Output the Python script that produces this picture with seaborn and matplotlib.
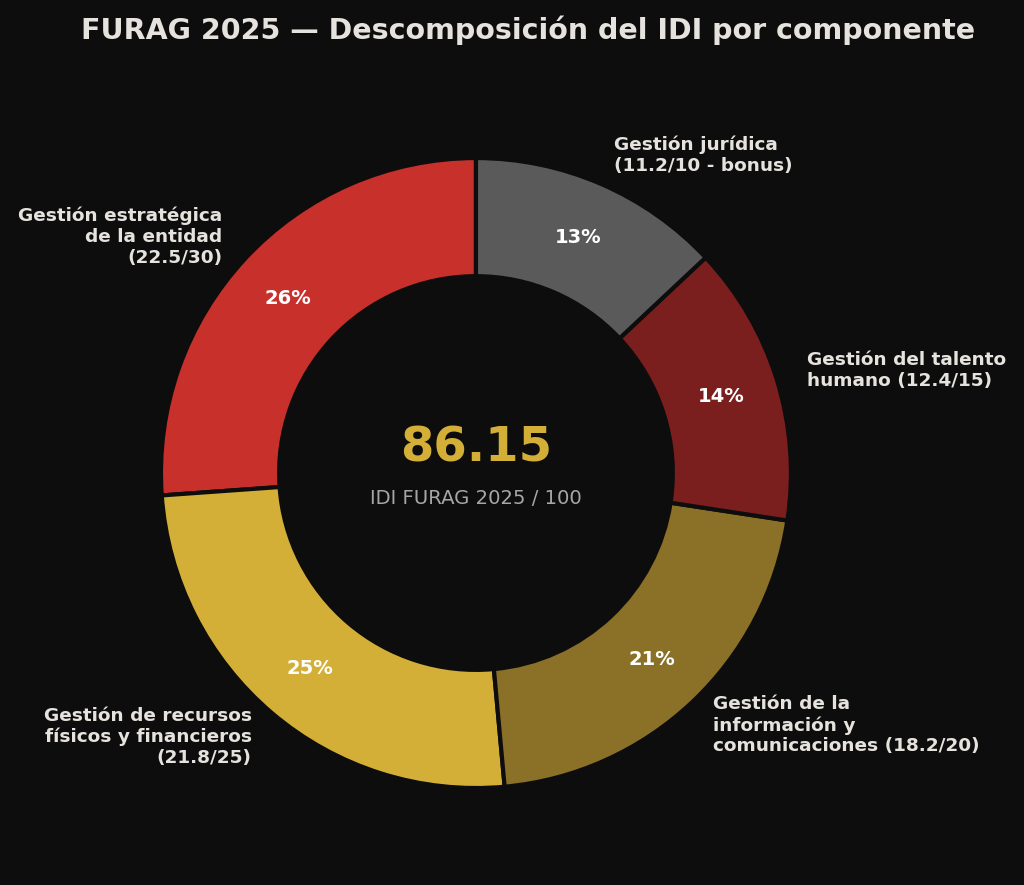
import matplotlib
matplotlib.use("Agg")
import matplotlib.pyplot as plt
import seaborn as sns

# datos FURAG 2025 por componente (puntaje obtenido / maximo)
componentes = [
    "Gestión estratégica\nde la entidad\n(22.5/30)",
    "Gestión de recursos\nfísicos y financieros\n(21.8/25)",
    "Gestión de la\ninformación y\ncomunicaciones (18.2/20)",
    "Gestión del talento\nhumano (12.4/15)",
    "Gestión jurídica\n(11.2/10 - bonus)",
]
puntajes = [22.5, 21.8, 18.2, 12.4, 11.2]
colores = ["#C8302C", "#D4AF37", "#8B7028", "#7A1F1E", "#5A5A5A"]
idi_total = "86.15"

BG = "#0D0D0D"
TXT = "#E6E3DE"

sns.set_theme(style="dark")
plt.rcParams['font.family'] = ['DejaVu Sans']

fig = plt.figure(figsize=(10.24, 8.85), dpi=100, facecolor=BG)
ax = fig.add_axes([0.0803, 0.0206, 0.769, 0.8898])
ax.set_facecolor(BG)

wedges, textos, pcts = ax.pie(
    puntajes,
    labels=componentes,
    colors=colores,
    startangle=90,
    autopct='%1.0f%%',
    pctdistance=0.815,
    labeldistance=1.1,
    wedgeprops=dict(width=0.375, edgecolor=BG, linewidth=3),
    textprops=dict(color=TXT, fontsize=13.3, fontweight='bold'),
)
for p in pcts:
    p.set_color('white')
    p.set_fontsize(14)
    p.set_fontweight('bold')

ax.text(0, 0.08, idi_total, ha='center', va='center', color="#D4AF37",
        fontsize=34.7, fontweight='bold')
ax.text(0, -0.08, "IDI FURAG 2025 / 100", ha='center', va='center',
        color="#A6A6A6", fontsize=14.1)
ax.set_aspect('equal')

fig.text(0.516, 0.966, "FURAG 2025 — Descomposición del IDI por componente",
         ha='center', va='center', color=TXT, fontsize=20.5, fontweight='bold')

fig.savefig("out.png", dpi=100, facecolor=BG)
